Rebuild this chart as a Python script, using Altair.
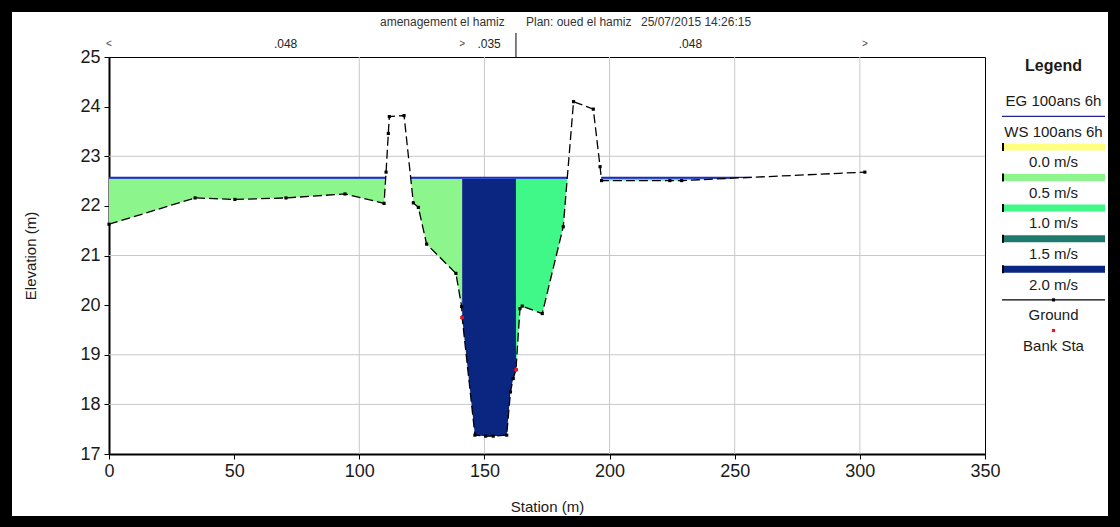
import altair as alt
import pandas as pd

# ---------------------------------------------------------------------------
# Cross-section survey: station (m) and ground elevation (m)
# ---------------------------------------------------------------------------
station = [0.0, 34.4, 50.3, 70.7, 94.3, 109.9, 110.7, 111.6, 112.0, 117.9,
           121.6, 123.6, 126.9, 138.6, 140.9, 141.1, 146.2, 150.5, 153.5, 158.9,
           160.4, 161.5, 162.6, 164.2, 165.1, 173.1, 181.5, 185.6, 193.5, 196.2,
           196.8, 224.1, 228.8, 302.0]
elevation = [21.63, 22.16, 22.13, 22.16, 22.24, 22.05, 22.68, 23.46, 23.80, 23.82,
             22.06, 21.97, 21.23, 20.64, 19.97, 19.75, 17.38, 17.36, 17.36, 17.38,
             18.25, 18.52, 18.70, 19.93, 19.98, 19.83, 21.58, 24.10, 23.95, 22.79,
             22.51, 22.51, 22.51, 22.68]

bank_stations = [141.1, 162.6]

# Manning n values and the stations where they change
n_breaks = [0.0, 141.1, 162.6, 302.0]
n_values = [".048", ".035", ".048"]

# Profile "100ans 6h"
ws_level = 22.555
eg_level = 22.575

# Velocity classes and their colours
vel_labels = ["0.0 m/s", "0.5 m/s", "1.0 m/s", "1.5 m/s", "2.0 m/s"]
vel_colors = ["#ffff80", "#8cf58c", "#40f888", "#1f7a6e", "#0a2680"]
# velocity class of each wetted sub-area, left to right
part_velocity = ["0.5 m/s", "0.5 m/s", "2.0 m/s", "1.0 m/s", "1.0 m/s"]

# Header text
project = "amenagement el hamiz"
plan = "Plan: oued el hamiz"
stamp = "25/07/2015  14:26:15"

grid_x = [100, 150, 200, 250, 300]
grid_y = [18, 19, 21, 23]

FONT = "Liberation Sans"
W, H = 876, 397
PAD = {"left": 109, "top": 57, "right": 135, "bottom": 73}

x_scale = alt.Scale(domain=[0, 350], nice=False, zero=False)
y_scale = alt.Scale(domain=[17, 25], nice=False, zero=False)

x_axis = alt.Axis(values=list(range(0, 351, 50)), title="Station (m)", grid=False,
                  labelFont=FONT, labelFontSize=18, labelColor="#1a1a1a",
                  labelPadding=3, labelFlush=False, tickSize=5, tickColor="black",
                  domainColor="black", domainWidth=2,
                  titleFont=FONT, titleFontSize=15, titleFontWeight="normal",
                  titleColor="#1a1a1a", titleY=52, titleBaseline="middle")
y_axis = alt.Axis(values=list(range(17, 26)), title="Elevation (m)", grid=False,
                  labelFont=FONT, labelFontSize=18, labelColor="#1a1a1a",
                  labelPadding=4, labelFlush=False, tickSize=5, tickColor="black",
                  domainColor="black", domainWidth=2,
                  titleFont=FONT, titleFontSize=15, titleFontWeight="normal",
                  titleColor="#1a1a1a", titleX=-79, titleY=H / 2,
                  titleBaseline="middle", titleAlign="center")


def X(field):
    return alt.X(field, scale=x_scale, axis=x_axis)


def Y(field, **kw):
    return alt.Y(field, scale=y_scale, axis=y_axis, **kw)


def wet_spans(level):
    """Return (start, end) station pairs where the ground lies under `level`."""
    spans, start = [], None
    for i, (s, z) in enumerate(zip(station, elevation)):
        if i == 0:
            if z < level:
                start = s
            continue
        s0, z0 = station[i - 1], elevation[i - 1]
        if (z0 < level) != (z < level):
            xc = s0 + (level - z0) / (z - z0) * (s - s0)
            if z < level:
                start = xc
            else:
                spans.append((start, xc))
                start = None
    if start is not None:
        spans.append((start, station[-1]))
    return spans


def ground_at(x):
    for i in range(1, len(station)):
        if station[i - 1] <= x <= station[i]:
            s0, s1 = station[i - 1], station[i]
            z0, z1 = elevation[i - 1], elevation[i]
            return z0 if s1 == s0 else z0 + (x - s0) / (s1 - s0) * (z1 - z0)
    return elevation[-1]


# Split the wetted spans at the bank stations into coloured sub-areas
ws_spans = wet_spans(ws_level)
cuts = []
for a, b in ws_spans:
    inner = [bs for bs in bank_stations if a < bs < b]
    edges = [a] + inner + [b]
    for k in range(len(edges) - 1):
        cuts.append((edges[k], edges[k + 1]))

fill_rows = []
for p, (a, b) in enumerate(cuts):
    xs = [a] + [s for s in station if a < s < b] + [b]
    for x in xs:
        g = min(ground_at(x), ws_level)
        fill_rows.append({"part": p, "sta": x, "ground": g, "ws": ws_level,
                          "vel": part_velocity[p]})
fill_df = pd.DataFrame(fill_rows)

ground_df = pd.DataFrame({"idx": range(len(station)), "sta": station, "elev": elevation})
bank_df = pd.DataFrame({"sta": bank_stations, "elev": [ground_at(b) for b in bank_stations]})

ws_df = pd.DataFrame([{"a": a, "b": b, "z": ws_level} for a, b in ws_spans])
eg_df = pd.DataFrame([{"a": a, "b": b, "z": eg_level} for a, b in wet_spans(eg_level)])

# ---------------------------------------------------------------------------
# Plot layers
# ---------------------------------------------------------------------------
gx = alt.Chart(pd.DataFrame({"g": grid_x})).mark_rule(color="#c8c8c8", strokeWidth=1).encode(
    x=X("g:Q"))
gy = alt.Chart(pd.DataFrame({"g": grid_y})).mark_rule(color="#c8c8c8", strokeWidth=1).encode(
    y=Y("g:Q"))

fills = alt.Chart(fill_df).mark_area(opacity=1, interpolate="linear").encode(
    x=X("sta:Q"),
    y=Y("ground:Q", stack=None),
    y2="ws:Q",
    color=alt.Color("vel:N", scale=alt.Scale(domain=vel_labels, range=vel_colors), legend=None),
    detail="part:N",
)

eg_line = alt.Chart(eg_df).mark_rule(color="#23238f", strokeWidth=1.2).encode(
    x=X("a:Q"), x2="b:Q", y=Y("z:Q"))
ws_line = alt.Chart(ws_df).mark_rule(color="#2f4fd8", strokeWidth=1.4).encode(
    x=X("a:Q"), x2="b:Q", y=Y("z:Q"))

ground_line = alt.Chart(ground_df).mark_line(color="black", strokeWidth=1.3,
                                             strokeDash=[9, 4]).encode(
    x=X("sta:Q"), y=Y("elev:Q"), order="idx:Q")
ground_pts = alt.Chart(ground_df).mark_square(color="black", size=10, opacity=1).encode(
    x=X("sta:Q"), y=Y("elev:Q"))
bank_pts = alt.Chart(bank_df).mark_circle(color="#e8142a", size=16, opacity=1).encode(
    x=X("sta:Q"), y=Y("elev:Q"))

# Manning n labels above the plot
n_df = pd.DataFrame({"mid": [(n_breaks[i] + n_breaks[i + 1]) / 2 for i in range(len(n_values))],
                     "n": n_values})
n_text = alt.Chart(n_df).mark_text(font=FONT, fontSize=12, color="#222",
                                   baseline="middle").encode(
    x=X("mid:Q"), y=alt.value(-13), text="n:N")
arrows_df = pd.DataFrame({"sta": [n_breaks[0], n_breaks[1], n_breaks[-1]],
                          "sym": ["<", ">", ">"], "off": [3, -4, -3]})
arrows = alt.Chart(arrows_df).mark_text(font=FONT, fontSize=10, color="#444",
                                        baseline="middle").encode(
    x=X("sta:Q"), y=alt.value(-13), text="sym:N", xOffset="off:Q")
n_break_rule = alt.Chart(pd.DataFrame({"sta": [n_breaks[2]]})).mark_rule(
    color="black", strokeWidth=1).encode(
    x=X("sta:Q"), y=alt.value(-24), y2=alt.value(0))

# Header line
head_df = pd.DataFrame({"px": [271, 417, 532], "py": [-35, -35, -35],
                        "t": [project, plan, stamp]})
header = alt.Chart(head_df).mark_text(font=FONT, fontSize=12, color="#333",
                                      align="left", baseline="middle").encode(
    x=alt.X("px:Q", scale=None), y=alt.Y("py:Q", scale=None), text="t:N")

# ---------------------------------------------------------------------------
# Legend panel on the right
# ---------------------------------------------------------------------------
lx0, lx1 = W + 17, W + 120
lxc = (lx0 + lx1) / 2
ly0, lstep = 44, 15.3
rows = ["EG 100ans 6h", "#eg", "WS 100ans 6h"]
for lab, col in zip(vel_labels, vel_colors):
    rows += ["bar" + col, lab]
rows += ["#ground", "Ground", "#bank", "Bank Sta"]

leg_text, leg_bars, leg_lines, leg_dots = [], [], [], []
for i, r in enumerate(rows):
    y = ly0 + i * lstep
    if r.startswith("bar"):
        leg_bars.append({"x": lx0, "x2": lx1, "y": y - 3.5, "y2": y + 3.5, "c": r[3:]})
        leg_bars.append({"x": lx0, "x2": lx0 + 2, "y": y - 4, "y2": y + 4, "c": "#000000"})
    elif r == "#eg":
        leg_lines.append({"x": lx0, "x2": lx1, "y": y, "c": "#23238f"})
    elif r == "#ground":
        leg_lines.append({"x": lx0, "x2": lx1, "y": y, "c": "#000000"})
        leg_dots.append({"x": lxc, "y": y, "c": "#000000"})
    elif r == "#bank":
        leg_dots.append({"x": lxc, "y": y, "c": "#e8142a"})
    else:
        leg_text.append({"x": lxc, "y": y, "t": r})

leg_title = alt.Chart(pd.DataFrame({"x": [lxc], "y": [9], "t": ["Legend"]})).mark_text(
    font=FONT, fontSize=16, fontWeight="bold", color="#1a1a1a", baseline="middle").encode(
    x=alt.X("x:Q", scale=None), y=alt.Y("y:Q", scale=None), text="t:N")
leg_txt = alt.Chart(pd.DataFrame(leg_text)).mark_text(
    font=FONT, fontSize=15, color="#1a1a1a", baseline="middle").encode(
    x=alt.X("x:Q", scale=None), y=alt.Y("y:Q", scale=None), text="t:N")
leg_rect = alt.Chart(pd.DataFrame(leg_bars)).mark_rect().encode(
    x=alt.X("x:Q", scale=None), x2="x2:Q", y=alt.Y("y:Q", scale=None), y2="y2:Q",
    color=alt.Color("c:N", scale=None))
leg_rule = alt.Chart(pd.DataFrame(leg_lines)).mark_rule(strokeWidth=1.3).encode(
    x=alt.X("x:Q", scale=None), x2="x2:Q", y=alt.Y("y:Q", scale=None),
    color=alt.Color("c:N", scale=None))
leg_dot = alt.Chart(pd.DataFrame(leg_dots)).mark_square(size=10, opacity=1).encode(
    x=alt.X("x:Q", scale=None), y=alt.Y("y:Q", scale=None),
    color=alt.Color("c:N", scale=None))

# ---------------------------------------------------------------------------
# Black outer frame of the figure
# ---------------------------------------------------------------------------
L, T = -PAD["left"], -PAD["top"]
R, B = W + PAD["right"], H + PAD["bottom"]
edge = 12
frame_df = pd.DataFrame([
    {"x": L, "x2": R, "y": T, "y2": T + edge},
    {"x": L, "x2": R, "y": B - edge + 1, "y2": B},
    {"x": L, "x2": L + edge, "y": T, "y2": B},
    {"x": R - edge, "x2": R, "y": T, "y2": B},
])
frame = alt.Chart(frame_df).mark_rect(color="black").encode(
    x=alt.X("x:Q", scale=None), x2="x2:Q", y=alt.Y("y:Q", scale=None), y2="y2:Q")

chart = alt.layer(
    gx, gy, fills, eg_line, ws_line, ground_line, ground_pts, bank_pts,
    n_text, arrows, n_break_rule, header,
    leg_title, leg_txt, leg_rect, leg_rule, leg_dot, frame,
).properties(
    width=W, height=H,
    autosize=alt.AutoSizeParams(type="none"),
    padding=PAD,
    background="white",
).configure_view(stroke="black", strokeWidth=1)

chart.save("out.html", embed_options={"renderer": "svg", "actions": False})
